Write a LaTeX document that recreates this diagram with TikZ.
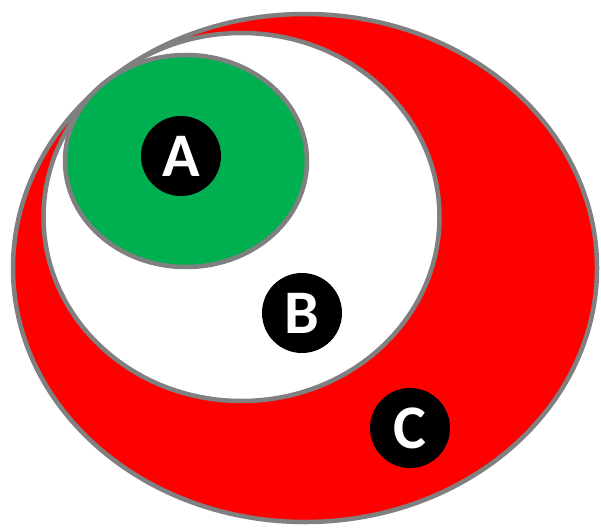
\documentclass[tikz,border=0pt]{standalone}
\usepackage{fontspec}
\setmainfont{Carlito}
\definecolor{rimgray}{RGB}{128,128,128}
\definecolor{cred}{RGB}{255,0,0}
\definecolor{agreen}{RGB}{0,176,80}
\begin{document}
\begin{tikzpicture}[x=1pt,y=-1pt,
  region/.style={draw=rimgray,line width=4.5pt},
  badge/.style={circle,fill=black,text=white,minimum size=80pt,inner sep=0pt,
    font=\fontsize{62}{62}\selectfont\bfseries}]
\useasboundingbox (0,0) rectangle (601,527);
\fill[white] (0,0) rectangle (601,527);
\draw[region,fill=cred] (305,268) ellipse [x radius=292, y radius=254];
\draw[region,fill=white] (241.5,217) ellipse [x radius=198, y radius=184];
\draw[region,fill=agreen] (186,161) ellipse [x radius=121, y radius=106];
\node[badge] (A) at (181,156) {A};
\node[badge] (B) at (302,313) {B};
\node[badge] (C) at (410,428) {C};
\end{tikzpicture}
\end{document}
